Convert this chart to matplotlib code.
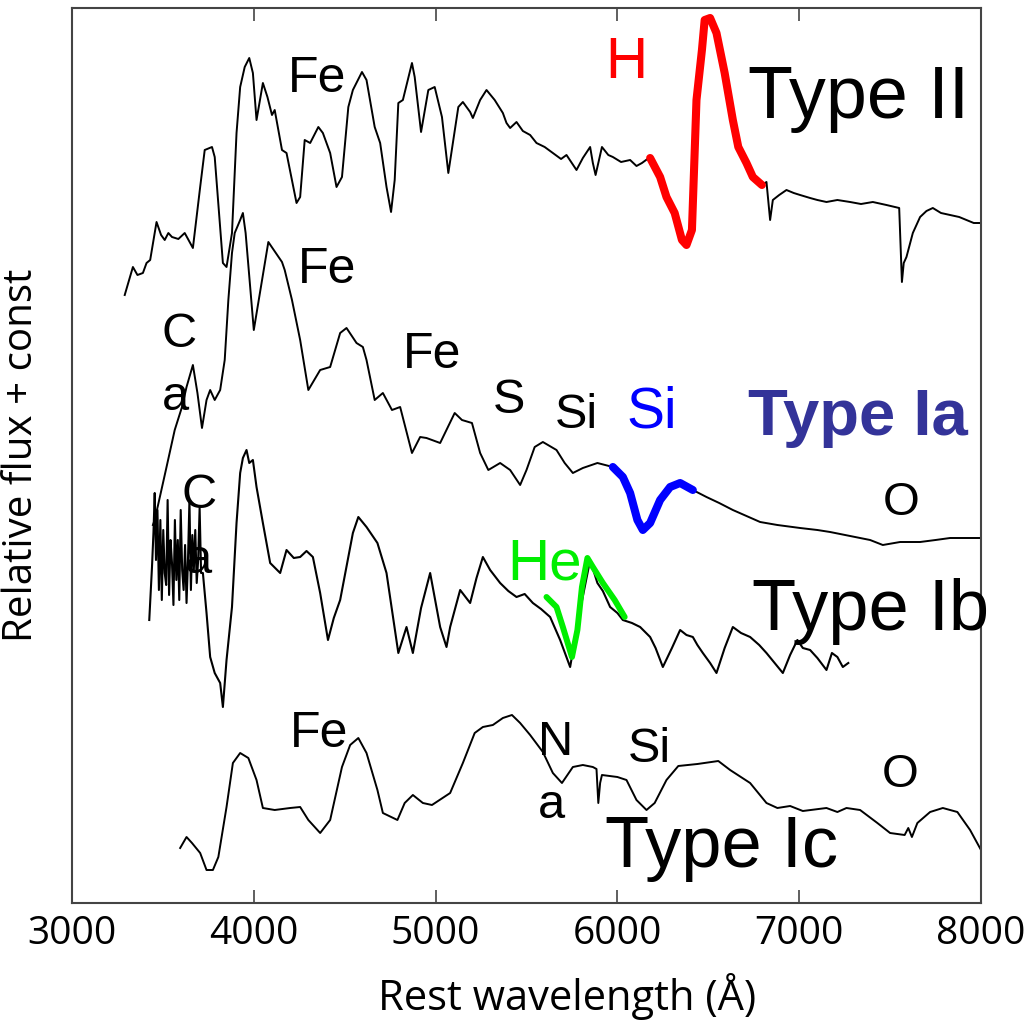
import matplotlib
matplotlib.use("Agg")
import matplotlib.pyplot as plt

# wavelengths in Angstrom, flux in arbitrary units (already offset per spectrum)
type2_wave = [3290, 3335, 3360, 3390, 3410, 3430, 3465, 3490, 3510, 3530, 3550, 3585, 3620,
              3665, 3705, 3730, 3770, 3785, 3830, 3850, 3880, 3905, 3925, 3950, 3975, 3995,
              4015, 4050, 4075, 4100, 4115, 4155, 4180, 4235, 4255, 4280, 4310, 4355, 4380,
              4420, 4455, 4485, 4520, 4545, 4595, 4620, 4665, 4695, 4730, 4755, 4775, 4795,
              4820, 4870, 4885, 4920, 4960, 4995, 5035, 5070, 5095, 5125, 5150, 5190, 5205,
              5245, 5280, 5325, 5370, 5390, 5410, 5445, 5480, 5520, 5555, 5600, 5645, 5690,
              5720, 5775, 5810, 5850, 5865, 5880, 5915, 5950, 5975, 6020, 6070, 6105, 6135,
              6180]
type2_flux = [608, 636, 628, 630, 640, 643, 681, 668, 663, 670, 666, 664, 670,
              655, 716, 753, 756, 746, 640, 636, 670, 770, 816, 836, 845, 830,
              783, 820, 806, 788, 793, 753, 750, 700, 706, 763, 760, 776, 770,
              750, 716, 726, 796, 813, 831, 823, 776, 760, 716, 691, 723, 800,
              803, 840, 826, 771, 813, 816, 786, 730, 760, 796, 801, 791, 785,
              803, 813, 803, 790, 780, 775, 781, 772, 768, 760, 756, 750, 744,
              748, 733, 745, 756, 740, 728, 756, 748, 746, 741, 743, 737, 740,
              746]

h_wave = [6180, 6235, 6270, 6315, 6355, 6380, 6410, 6435, 6465, 6480, 6510, 6545, 6590,
          6635, 6665, 6710, 6745, 6795]
h_flux = [745, 726, 706, 690, 663, 658, 673, 803, 853, 883, 885, 870, 830,
          783, 756, 740, 726, 718]

type2_red_wave = [6795, 6820, 6840, 6855, 6890, 6930, 6970, 7005, 7060, 7100, 7150, 7210,
                  7280, 7340, 7405, 7480, 7550, 7565, 7575, 7590, 7625, 7665, 7700, 7735,
                  7780, 7830, 7880, 7920, 7960, 8000]
type2_red_flux = [718, 721, 683, 703, 708, 713, 710, 708, 705, 703, 701, 703,
                  701, 699, 701, 698, 695, 621, 640, 646, 670, 686, 692, 695,
                  690, 688, 686, 683, 680, 680]

type1a_wave = [3445, 3455, 3520, 3565, 3605, 3630, 3665, 3690, 3715, 3740, 3760, 3785, 3815,
               3840, 3860, 3880, 3895, 3925, 3940, 3955, 4000, 4080, 4155, 4170, 4210, 4255,
               4300, 4365, 4420, 4475, 4510, 4565, 4600, 4620, 4665, 4710, 4760, 4805, 4870,
               4915, 4950, 5025, 5105, 5145, 5200, 5245, 5290, 5355, 5410, 5465, 5500, 5545,
               5590, 5665, 5710, 5755, 5810, 5890, 5975]
type1a_flux = [378, 383, 436, 473, 496, 516, 538, 510, 475, 503, 513, 503, 513,
               543, 603, 650, 670, 683, 690, 670, 573, 661, 641, 633, 603, 563,
               513, 533, 536, 570, 575, 560, 556, 543, 503, 510, 493, 496, 450,
               466, 465, 460, 490, 483, 480, 450, 433, 440, 433, 418, 433, 456,
               461, 453, 440, 430, 435, 440, 436]

si_wave = [5975, 6030, 6070, 6110, 6140, 6180, 6235, 6290, 6345, 6415]
si_flux = [436, 426, 410, 383, 373, 380, 403, 416, 420, 413]

type1a_red_wave = [6415, 6490, 6560, 6635, 6710, 6785, 6880, 7005, 7100, 7170, 7280, 7390,
                   7460, 7555, 7665, 7750, 7830, 7920, 8000]
type1a_red_flux = [413, 406, 400, 393, 387, 381, 378, 375, 373, 371, 367, 363,
                   358, 361, 361, 363, 365, 365, 365]

type1b_wave = [3425, 3440, 3448, 3455, 3462, 3470, 3478, 3486, 3494, 3502, 3510, 3518, 3526,
               3534, 3542, 3550, 3558, 3566, 3574, 3582, 3590, 3598, 3606, 3614, 3622, 3630,
               3638, 3646, 3654, 3662, 3670, 3678, 3686, 3694, 3702, 3710, 3720, 3740, 3760,
               3785, 3815, 3830, 3850, 3880, 3905, 3925, 3940, 3960, 3975, 3995, 4015, 4050,
               4090, 4145, 4180, 4220, 4255, 4290, 4325, 4365, 4408, 4440, 4475, 4545, 4575,
               4620, 4680, 4730, 4795, 4840, 4875, 4920, 4970, 5025, 5060, 5080, 5135, 5190,
               5225, 5260, 5300, 5355, 5400, 5445, 5490, 5535, 5580, 5630, 5685, 5740, 5795,
               5850, 5890, 5920, 5960, 6000, 6030, 6080, 6125, 6180, 6210, 6250, 6300, 6345,
               6380, 6415, 6440, 6470, 6510, 6545, 6590, 6635, 6680, 6730, 6780, 6820, 6865,
               6910, 6950, 6990, 7020, 7060, 7100, 7150, 7180, 7210, 7240, 7270]
type1b_flux = [283, 336, 370, 410, 343, 393, 313, 383, 303, 373, 330, 318, 403,
               308, 363, 340, 298, 383, 323, 363, 303, 393, 333, 313, 358, 300,
               343, 403, 313, 368, 333, 373, 320, 343, 395, 330, 330, 290, 246,
               230, 220, 196, 243, 296, 380, 430, 445, 453, 440, 443, 416, 380,
               340, 330, 353, 345, 346, 352, 346, 310, 263, 285, 303, 370, 386,
               376, 360, 330, 250, 276, 250, 295, 330, 276, 256, 276, 313, 300,
               325, 346, 333, 320, 312, 306, 309, 300, 294, 286, 263, 236, 293,
               343, 320, 312, 296, 290, 283, 280, 276, 266, 255, 236, 255, 273,
               268, 266, 258, 250, 240, 230, 255, 276, 270, 266, 258, 250, 240,
               230, 248, 263, 255, 253, 245, 233, 250, 246, 236, 240]

he_wave = [5610, 5665, 5700, 5750, 5780, 5805, 5835, 5865, 5920, 5985, 6040]
he_flux = [306, 296, 276, 246, 273, 316, 345, 336, 320, 303, 286]

type1c_wave = [3595, 3630, 3660, 3705, 3740, 3775, 3805, 3850, 3885, 3925, 3970, 4015, 4050,
               4115, 4200, 4255, 4300, 4365, 4420, 4485, 4530, 4575, 4620, 4680, 4710, 4790,
               4830, 4875, 4930, 4980, 5080, 5150, 5215, 5260, 5315, 5370, 5420, 5465, 5520,
               5590, 5645, 5695, 5755, 5810, 5865, 5885, 5895, 5905, 5915, 6000, 6050, 6105,
               6160, 6205, 6270, 6335, 6440, 6555, 6620, 6730, 6820, 6880, 6950, 7020, 7150,
               7210, 7260, 7335, 7430, 7500, 7580, 7600, 7620, 7650, 7720, 7790, 7870, 7940,
               8000]
type1c_flux = [55, 66, 60, 50, 33, 33, 46, 96, 140, 150, 145, 123, 95,
               93, 95, 96, 83, 70, 83, 136, 158, 165, 150, 113, 90, 83,
               100, 108, 100, 98, 110, 140, 170, 176, 178, 185, 188, 180, 168,
               151, 130, 120, 136, 138, 136, 134, 100, 120, 128, 126, 123, 103,
               93, 100, 123, 137, 139, 142, 133, 120, 100, 95, 97, 92, 95,
               91, 95, 93, 80, 70, 68, 75, 66, 80, 91, 95, 91, 73,
               53]

# element / type annotations
label_text = ["Fe", "H", "Type II", "Fe", "C", "a", "Fe", "S", "Si", "Si", "Type Ia", "O",
              "C", "a", "He", "Type Ib", "Fe", "N", "a", "Si", "O", "Type Ic"]
label_wave = [4188, 5932, 6718, 4243, 3495, 3495, 4820, 5316, 5657, 6052, 6718, 7460,
              3605, 3620, 5393, 6740, 4199, 5563, 5563, 6058, 7455, 5932]
label_flux = [811, 825, 785, 620, 556, 493, 535, 490, 475, 475, 468, 388,
              395, 330, 323, 273, 156, 148, 85, 141, 116, 36]
label_color = ["black", "#ff0000", "black", "black", "black", "black", "black", "black",
               "black", "#0000ff", "#333399", "black", "black", "black", "#00ee00", "black",
               "black", "black", "black", "black", "black", "black"]
label_size = [36, 42, 53, 36, 35, 35, 36, 35, 35, 41, 47, 34,
              35, 35, 42, 52, 36, 35, 35, 35, 34, 52]
label_bold = ["Type Ia"]

fig = plt.figure(figsize=(10.26, 10.23), dpi=100)
ax = fig.add_axes([72 / 1026, 1 - 903 / 1023, 909 / 1026, 895 / 1023])

lw = 1.4
ax.plot(type2_wave, type2_flux, color="black", lw=lw)
ax.plot(type2_red_wave, type2_red_flux, color="black", lw=lw)
ax.plot(type1a_wave, type1a_flux, color="black", lw=lw)
ax.plot(type1a_red_wave, type1a_red_flux, color="black", lw=lw)
ax.plot(type1b_wave, type1b_flux, color="black", lw=1.5)
ax.plot(type1c_wave, type1c_flux, color="black", lw=lw)
ax.plot(h_wave, h_flux, color="#ff0000", lw=5.8, solid_capstyle="round", solid_joinstyle="round")
ax.plot(si_wave, si_flux, color="#0000ff", lw=5.8, solid_capstyle="round", solid_joinstyle="round")
ax.plot(he_wave, he_flux, color="#00ee00", lw=4.3, solid_capstyle="round", solid_joinstyle="round")

for text, x, y, c, s in zip(label_text, label_wave, label_flux, label_color, label_size):
    ax.text(x, y, text, color=c, fontsize=s, family=["Liberation Sans", "DejaVu Sans"],
            fontweight="bold" if text in label_bold else "normal",
            ha="left", va="baseline", zorder=5)

ax.set_xlim(3000, 8000)
ax.set_ylim(0, 895)
ax.set_xticks([3000, 4000, 5000, 6000, 7000, 8000])
ax.set_yticks([])
ax.tick_params(axis="x", direction="in", length=9.5, width=1.2, color="#444444",
               top=True, pad=9, labelsize=28)
for lab in ax.get_xticklabels():
    lab.set_family(["Open Sans", "DejaVu Sans"])
for sp in ax.spines.values():
    sp.set_color("#444444")
    sp.set_linewidth(1.5)

ax.set_xlabel("Rest wavelength (Å)", fontsize=30, family=["Open Sans", "DejaVu Sans"])
ax.xaxis.set_label_coords(0.545, -0.078)
ax.set_ylabel("Relative flux + const", fontsize=29, family=["Open Sans", "DejaVu Sans"])
ax.yaxis.set_label_coords(-0.033, 0.5)

fig.savefig("out.png", dpi=100)
